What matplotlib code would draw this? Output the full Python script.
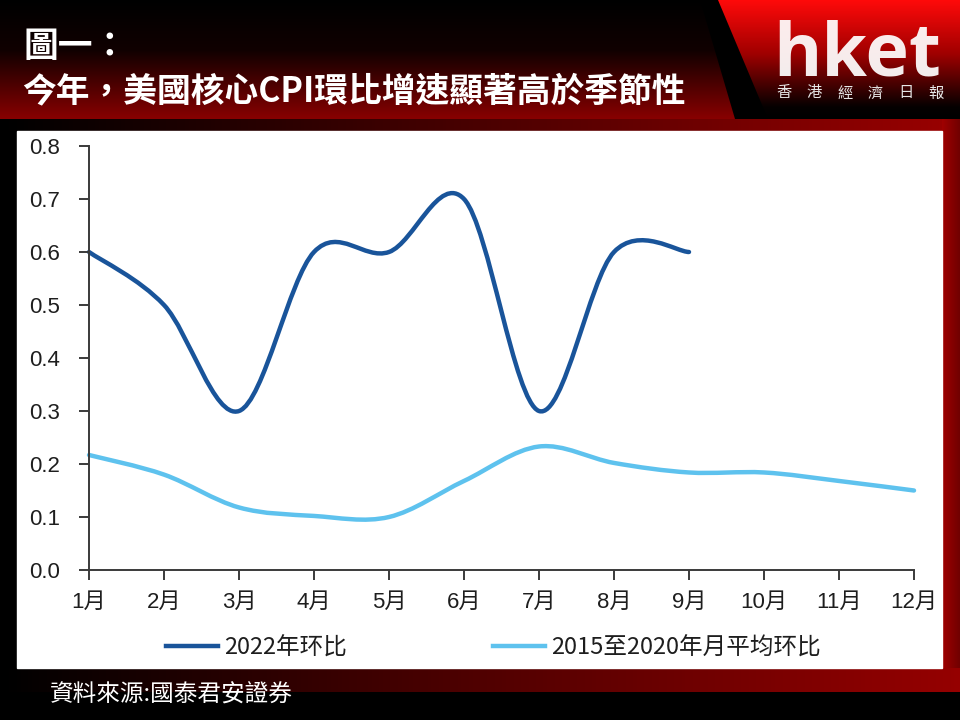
import numpy as np
import matplotlib
matplotlib.use('Agg')
import matplotlib.pyplot as plt
from matplotlib.path import Path
from matplotlib.patches import PathPatch, Rectangle, Polygon
from matplotlib.colors import LinearSegmentedColormap
from matplotlib.lines import Line2D

# ---------------- data ----------------
months = ['1月', '2月', '3月', '4月', '5月', '6月', '7月', '8月', '9月', '10月', '11月', '12月']
month_idx = list(range(1, 13))
cpi_2022 = [0.6, 0.5, 0.3, 0.6, 0.6, 0.7, 0.3, 0.6, 0.6]
avg_2015_2020 = [0.217, 0.18, 0.118, 0.102, 0.10, 0.168, 0.233, 0.202, 0.184, 0.184, 0.168, 0.15]
series_labels = ['2022年环比', '2015至2020年月平均环比']
yticks = [0.0, 0.1, 0.2, 0.3, 0.4, 0.5, 0.6, 0.7, 0.8]

title1 = '圖一：'
title2 = '今年，美國核心CPI環比增速顯著高於季節性'
source = '資料來源:國泰君安證券'
logo = 'hket'
logo_sub = ['香', '港', '經', '濟', '日', '報']

DARK = '#19549a'
LIGHT = '#5ec2ee'

fig = plt.figure(figsize=(9.6, 7.2), dpi=100)
fig.patch.set_facecolor('black')

# ---------------- background ----------------
bg = fig.add_axes([0, 0, 1, 1])
bg.set_axis_off()
bg.patch.set_facecolor('black')


def grad_fill(ax, verts, colors, direction, extent):
    poly = Polygon(verts, closed=True, facecolor='none', edgecolor='none')
    ax.add_patch(poly)
    cmap = LinearSegmentedColormap.from_list('g', colors)
    if direction == 'v':
        arr = np.linspace(0, 1, 256).reshape(-1, 1)
    else:
        arr = np.linspace(0, 1, 256).reshape(1, -1)
    im = ax.imshow(arr, cmap=cmap, extent=extent, aspect='auto', origin='upper',
                   interpolation='bilinear', zorder=1)
    im.set_clip_path(poly)


# header left
grad_fill(bg, [(0, 0), (700, 0), (735, 119), (0, 119)],
          [(0, '#000000'), (0.42, '#100000'), (1, '#880000')], 'v', (0, 735, 119, 0))
# logo region
grad_fill(bg, [(718, 0), (960, 0), (960, 119), (768, 119)],
          [(0, '#ff0a0a'), (0.45, '#a00000'), (0.9, '#050000'), (1, '#000000')], 'v', (718, 960, 119, 0))
# band under header
grad_fill(bg, [(0, 119), (960, 119), (960, 131), (0, 131)],
          [(0, '#000000'), (0.5, '#4a0000'), (1, '#9a0000')], 'h', (0, 960, 131, 119))
# right strip
grad_fill(bg, [(942, 119), (960, 119), (960, 692), (942, 692)],
          [(0, '#a00000'), (1, '#700000')], 'h', (942, 960, 692, 119))
# bottom band
grad_fill(bg, [(0, 668), (960, 668), (960, 692), (0, 692)],
          [(0, '#000000'), (0.5, '#500000'), (1, '#950000')], 'h', (0, 960, 692, 668))
# white panel
bg.add_patch(Rectangle((17, 131), 942 - 17, 668 - 131, color='white', zorder=3))
bg.set_xlim(0, 960)
bg.set_ylim(720, 0)

# ---------------- texts ----------------
fig.text(24 / 960, 1 - 47 / 720, title1, color='white', fontsize=25, fontweight='bold',
         family=['Noto Sans CJK TC'], va='center', ha='left')
fig.text(22 / 960, 1 - 91 / 720, title2, color='white', fontsize=24.3, fontweight='bold',
         family=['Noto Sans CJK TC'], va='center', ha='left')
fig.text(773 / 960, 1 - 75 / 720, logo, color='white', alpha=0.93, fontsize=53,
         fontweight='bold', family=['Open Sans'], va='baseline', ha='left')
for i, ch in enumerate(logo_sub):
    fig.text((784 + i * 30.4) / 960, 1 - 93 / 720, ch, color='#e6e6e6', fontsize=11,
             family=['Noto Sans CJK TC'], va='center', ha='center')
fig.text(50 / 960, 1 - 694 / 720, source, color='white', fontsize=17,
         family=['Noto Sans CJK TC'], va='center', ha='left')

# ---------------- chart ----------------
ax = fig.add_axes([89 / 960, 150 / 720, 825 / 960, 424 / 720])
ax.patch.set_alpha(0)


def smooth_patch(xs, ys, color):
    pts = np.column_stack([xs, ys]).astype(float)
    n = len(pts)
    verts = [pts[0]]
    codes = [Path.MOVETO]
    for i in range(n - 1):
        p0 = pts[max(i - 1, 0)]
        p1 = pts[i]
        p2 = pts[i + 1]
        p3 = pts[min(i + 2, n - 1)]
        c1 = p1 + (p2 - p0) / 6.0
        c2 = p2 - (p3 - p1) / 6.0
        verts += [c1, c2, p2]
        codes += [Path.CURVE4] * 3
    patch = PathPatch(Path(verts, codes), facecolor='none', edgecolor=color, lw=3.2,
                      capstyle='round', joinstyle='round', clip_on=False)
    ax.add_patch(patch)


smooth_patch(month_idx[:len(cpi_2022)], cpi_2022, DARK)
smooth_patch(month_idx, avg_2015_2020, LIGHT)

ax.set_xlim(1, 12)
ax.set_ylim(0, 0.8)
for s in ['top', 'right']:
    ax.spines[s].set_visible(False)
for s in ['left', 'bottom']:
    ax.spines[s].set_color('#3a3a3a')
    ax.spines[s].set_linewidth(1.4)

ax.set_yticks(yticks)
ax.set_yticklabels([f'{v:.1f}' for v in yticks])
ax.set_xticks(month_idx)
ax.set_xticklabels(months)
tick_font = ['Liberation Sans', 'Noto Sans CJK SC']
for lab in ax.get_xticklabels() + ax.get_yticklabels():
    lab.set_family(tick_font)
ax.tick_params(axis='y', direction='out', length=7, width=1.4, pad=14, labelsize=16,
               color='#3a3a3a', labelcolor='#1e1e1e')
ax.tick_params(axis='x', direction='out', length=7, width=1.4, pad=9, labelsize=16,
               color='#3a3a3a', labelcolor='#1e1e1e')

handles = [Line2D([], [], color=DARK, lw=3.2), Line2D([], [], color=LIGHT, lw=3.2)]
leg = fig.legend(handles, series_labels, loc='center left',
                 bbox_to_anchor=(166 / 960, 1 - 648 / 720), ncol=2, frameon=False,
                 handlelength=2.2, handletextpad=0.25, columnspacing=6.2,
                 borderaxespad=0, borderpad=0,
                 prop={'family': ['Noto Sans CJK SC'], 'size': 17})
for t in leg.get_texts():
    t.set_color('#1e1e1e')

fig.savefig('out.png', dpi=100, facecolor='black')
